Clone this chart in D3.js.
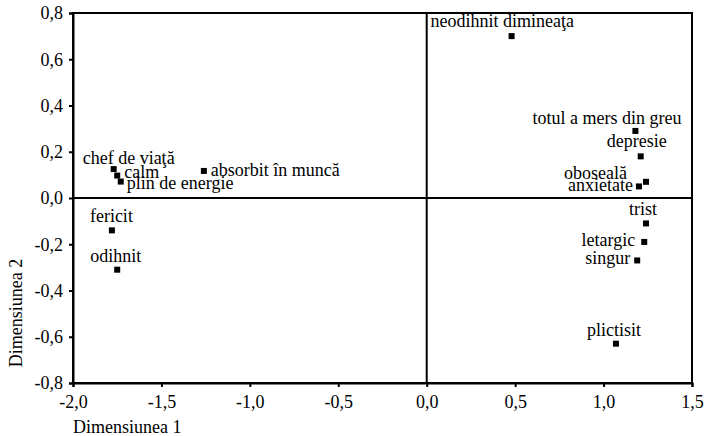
<!DOCTYPE html>
<head>
  <meta charset="utf-8">
  <script src="https://d3js.org/d3.v7.min.js"></script>
  <style>
body { margin: 0; background: #fff; }
svg text { font-family: "Liberation Serif", "DejaVu Serif", serif; fill: #000; }
  </style>
</head>
<body>
  <script>
    // point names and coordinates (dimension 1, dimension 2)
    var names = ['neodihnit dimineaţa', 'totul a mers din greu', 'depresie', 'oboseală', 'anxietate',
                 'trist', 'letargic', 'singur', 'plictisit',
                 'chef de viaţă', 'calm', 'plin de energie', 'absorbit în muncă', 'fericit', 'odihnit'];
    var dim1 = [0.48, 1.18, 1.21, 1.24, 1.20, 1.24, 1.23, 1.19, 1.07, -1.77, -1.75, -1.73, -1.26, -1.78, -1.75];
    var dim2 = [0.70, 0.29, 0.18, 0.07, 0.05, -0.11, -0.19, -0.27, -0.63, 0.125, 0.097, 0.071, 0.117, -0.14, -0.31];
    var xTicks = [-2.0, -1.5, -1.0, -0.5, 0.0, 0.5, 1.0, 1.5];
    var yTicks = [-0.8, -0.6, -0.4, -0.2, 0.0, 0.2, 0.4, 0.6, 0.8];

    // label placement (offset from marker, anchor)
    var labelLayout = [
      {dx: -81, dy: -9, a: 'start'}, {dx: 46, dy: -7, a: 'end'}, {dx: -34, dy: -9, a: 'start'},
      {dx: -19, dy: -3, a: 'end'}, {dx: -6, dy: 5, a: 'end'}, {dx: -17, dy: -8, a: 'start'},
      {dx: -9, dy: 4, a: 'end'}, {dx: -7, dy: 4, a: 'end'}, {dx: -29, dy: -8, a: 'start'},
      {dx: -31, dy: -5, a: 'start'}, {dx: 7, dy: 2, a: 'start'}, {dx: 6, dy: 7, a: 'start'},
      {dx: 7, dy: 5, a: 'start'}, {dx: -22, dy: -8, a: 'start'}, {dx: -27, dy: -8, a: 'start'}
    ];

    var serif = '"Liberation Serif", "DejaVu Serif", serif';
    var fmt = function(d) { return d3.format('.1f')(d).replace('.', ',').replace('−', '-'); };

    var margin = {left: 73, top: 13, right: 13, bottom: 53};
    var W = 705, H = 436;
    var svg = d3.select('body').append('svg').attr('width', W).attr('height', H);

    var x = d3.scaleLinear().domain([-2, 1.5]).range([margin.left, W - margin.right]);
    var y = d3.scaleLinear().domain([-0.8, 0.8]).range([H - margin.bottom, margin.top]);

    // frame
    svg.append('rect')
      .attr('x', x(-2)).attr('y', y(0.8))
      .attr('width', x(1.5) - x(-2)).attr('height', y(-0.8) - y(0.8))
      .attr('fill', 'none').attr('stroke', '#000').attr('stroke-width', 2);

    // zero lines
    svg.append('line').attr('x1', x(0)).attr('x2', x(0)).attr('y1', y(0.8)).attr('y2', y(-0.8))
      .attr('stroke', '#000').attr('stroke-width', 2);
    svg.append('line').attr('x1', x(-2)).attr('x2', x(1.5)).attr('y1', y(0)).attr('y2', y(0))
      .attr('stroke', '#000').attr('stroke-width', 2);

    var xAxis = svg.append('g')
      .attr('transform', 'translate(0,' + y(-0.8) + ')')
      .call(d3.axisBottom(x).tickValues(xTicks).tickFormat(fmt).tickSize(4).tickPadding(8));
    var yAxis = svg.append('g')
      .attr('transform', 'translate(' + x(-2) + ',0)')
      .call(d3.axisLeft(y).tickValues(yTicks).tickFormat(fmt).tickSize(4).tickPadding(6));
    [xAxis, yAxis].forEach(function(g) {
      g.attr('font-family', serif).attr('font-size', 18);
      g.select('.domain').attr('stroke-width', 2);
      g.selectAll('.tick line').attr('stroke-width', 2);
      g.selectAll('.tick text').style('font-family', serif).style('font-size', '18px');
    });

    svg.append('text')
      .attr('x', x(-2)).attr('y', 433)
      .style('font-family', serif).style('font-size', '18px')
      .text('Dimensiunea 1');
    svg.append('text')
      .attr('transform', 'translate(22,313) rotate(-90)')
      .attr('text-anchor', 'middle')
      .style('font-family', serif).style('font-size', '18px')
      .text('Dimensiunea 2');

    var idx = d3.range(names.length);
    svg.selectAll('rect.pt').data(idx).enter().append('rect')
      .attr('class', 'pt')
      .attr('x', function(i) { return x(dim1[i]) - 3; })
      .attr('y', function(i) { return y(dim2[i]) - 3; })
      .attr('width', 6).attr('height', 6)
      .attr('fill', '#000');

    svg.selectAll('text.ptlabel').data(idx).enter().append('text')
      .attr('class', 'ptlabel')
      .style('font-family', serif).style('font-size', '18px')
      .attr('x', function(i) { return x(dim1[i]) + labelLayout[i].dx; })
      .attr('y', function(i) { return y(dim2[i]) + labelLayout[i].dy; })
      .attr('text-anchor', function(i) { return labelLayout[i].a; })
      .text(function(i) { return names[i]; });
  </script>
</body>
